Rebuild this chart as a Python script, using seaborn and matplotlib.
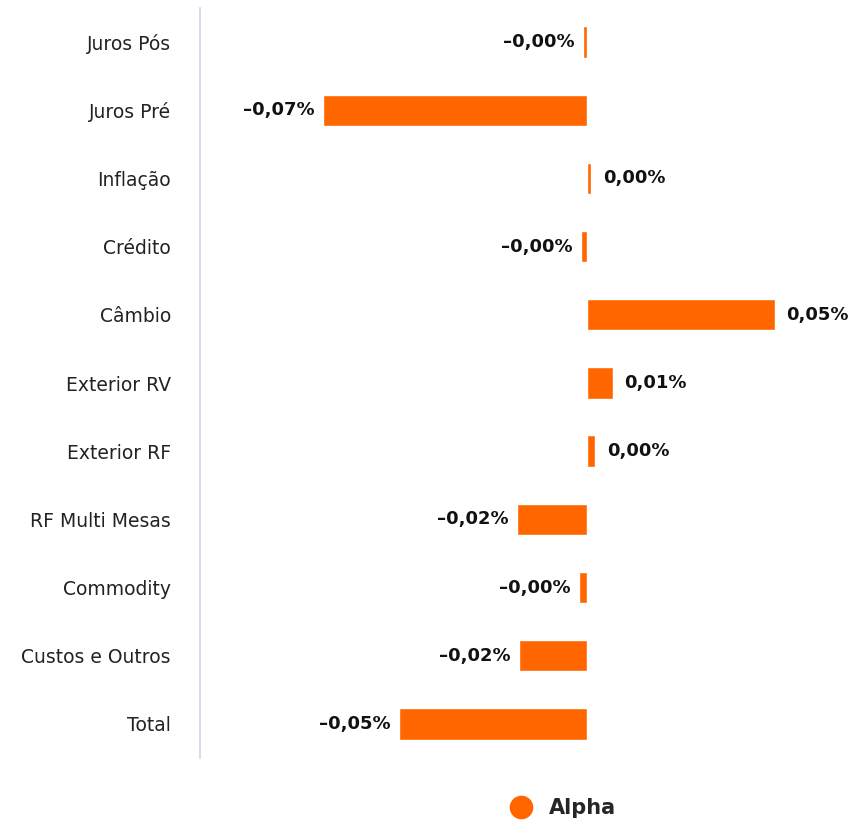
import matplotlib
matplotlib.use("Agg")
import matplotlib.pyplot as plt
from matplotlib.lines import Line2D
import seaborn as sns
import pandas as pd

categories = ["Juros Pós", "Juros Pré", "Inflação", "Crédito", "Câmbio",
              "Exterior RV", "Exterior RF", "RF Multi Mesas", "Commodity",
              "Custos e Outros", "Total"]
alpha_values = [-0.0011, -0.0697, 0.0011, -0.0016, 0.0496,
                0.0068, 0.0021, -0.0184, -0.0021, -0.0179, -0.0497]
series_name = "Alpha"

bar_color = "#FF6600"
axis_color = "#ccd6eb"


def fmt_pct(v):
    s = f"{abs(v):.2f}".replace(".", ",") + "%"
    return ("\u2013" + s) if v < 0 else s


df = pd.DataFrame({"categoria": categories, "valor": alpha_values})

sns.set_style("white")
plt.rcParams["font.family"] = ["DejaVu Sans"]

fig = plt.figure(figsize=(8.61, 8.22), dpi=100)
W, H = 861, 822
ax = fig.add_axes([200 / W, 1 - 758 / H, (852 - 200) / W, (758 - 8) / H])

sns.barplot(data=df, x="valor", y="categoria", orient="h", color=bar_color,
            saturation=1, width=0.46, errorbar=None, ax=ax)

ax.set_xlim(-0.1022, 0.07)
ax.set_ylim(len(categories) - 0.5, -0.5)

for patch, v in zip(ax.patches, alpha_values):
    y = patch.get_y() + patch.get_height() / 2
    if v < 0:
        ax.annotate(fmt_pct(v), (v, y), xytext=(-6, 0), textcoords="offset points",
                    ha="right", va="center", fontsize=13, fontweight="bold",
                    color="#111111")
    else:
        ax.annotate(fmt_pct(v), (v, y), xytext=(8.5, 0), textcoords="offset points",
                    ha="left", va="center", fontsize=13, fontweight="bold",
                    color="#111111")

ax.set_xlabel("")
ax.set_ylabel("")
ax.set_xticks([])
ax.tick_params(axis="y", length=0, pad=21, labelsize=13.5, labelcolor="#222222")
for lbl in ax.get_yticklabels():
    lbl.set_va("center_baseline")
for side in ["top", "right", "bottom"]:
    ax.spines[side].set_visible(False)
ax.spines["left"].set_color(axis_color)
ax.spines["left"].set_linewidth(1.2)

handle = Line2D([], [], marker="o", linestyle="", markersize=16,
                markerfacecolor=bar_color, markeredgecolor=bar_color)
fig.legend([handle], [series_name], loc="center", bbox_to_anchor=(558 / W, 1 - 808 / H),
           frameon=False, handletextpad=0.3,
           prop={"size": 15, "weight": "bold"})

fig.savefig("out.png", dpi=100)
